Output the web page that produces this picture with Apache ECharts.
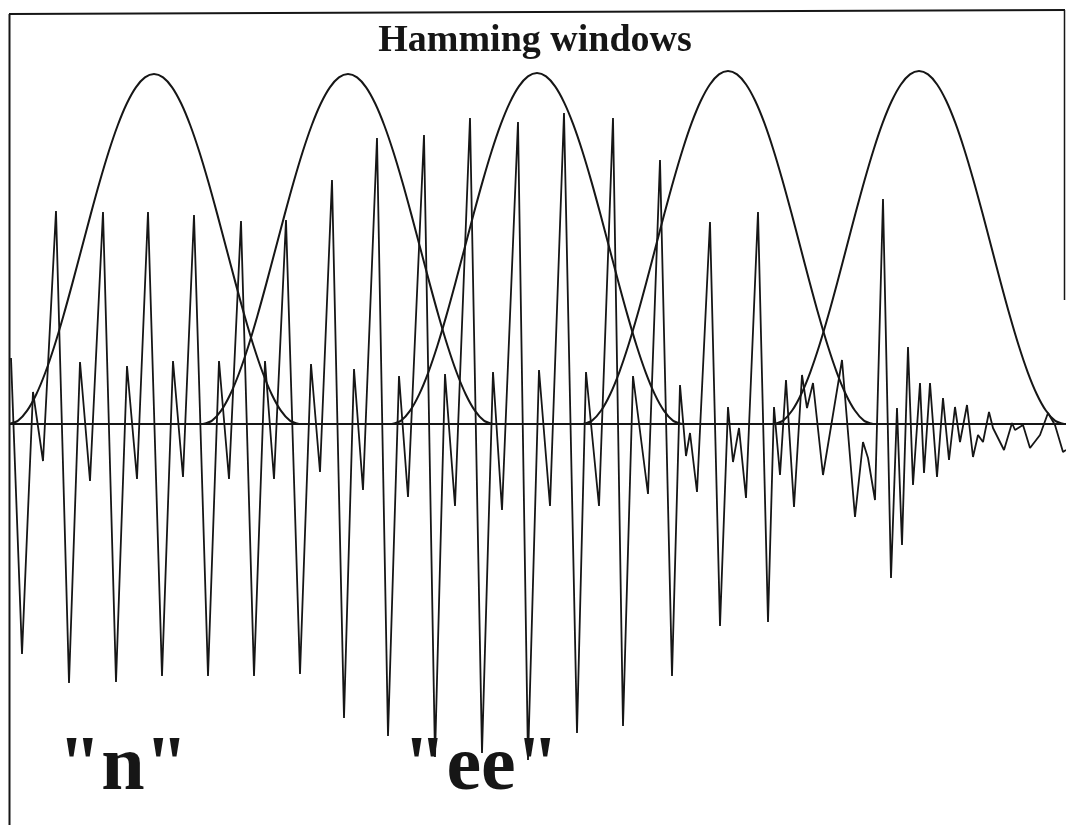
<!DOCTYPE html>
<html>
<head>
<meta charset="utf-8">
<script src="https://cdn.jsdelivr.net/npm/echarts@6/dist/echarts.min.js"></script>
<style>
  html, body { margin: 0; padding: 0; background: #ffffff; }
  #chart { width: 1066px; height: 825px; }
</style>
</head>
<body>
<div id="chart"></div>
<script>
// ---- Data (sample position, amplitude) ----
const waveX = [11, 22, 33, 43, 56, 69, 80, 90, 103, 116, 127, 137, 148, 162, 173, 183, 194, 208, 219, 229,
  241, 254, 265, 274, 286, 300, 311, 320, 332, 344, 354, 363, 377, 388, 399, 408, 424, 435, 445, 455,
  470, 482, 493, 502, 518, 528, 539, 550, 564, 577, 586, 599, 613, 623, 633, 648, 660, 672, 680, 686,
  690, 697, 710, 720, 728, 733, 739, 746, 758, 768, 774, 780, 786, 794, 802, 807, 813, 823, 842, 855,
  863, 868, 875, 883, 891, 897, 902, 908, 913, 920, 924, 930, 937, 943, 949, 955, 960, 967, 973, 978,
  983, 989, 993, 1004, 1012, 1015, 1023, 1030, 1040, 1048, 1055, 1063, 1066];
const waveY = [66, -230, 32, -37, 213, -259, 62, -57, 212, -258, 58, -55, 212, -252, 63, -53, 209, -252, 63, -55,
  203, -252, 63, -55, 204, -250, 60, -48, 244, -294, 55, -66, 286, -312, 48, -73, 289, -333, 50, -82,
  306, -329, 52, -86, 302, -336, 54, -82, 311, -309, 52, -82, 306, -302, 48, -70, 264, -252, 39, -32,
  -9, -68, 202, -202, 17, -38, -4, -74, 212, -198, 17, -51, 44, -83, 49, 16, 41, -51, 64, -93,
  -18, -34, -76, 225, -154, 16, -121, 77, -61, 41, -49, 41, -53, 26, -36, 17, -18, 19, -33, -11,
  -18, 12, -4, -26, 1, -6, -1, -24, -11, 11, -1, -28, -26];

// Hamming windows: centres, width and peak heights, and the bell shape (fraction of peak)
const windowCenters = [154, 348, 537, 728, 919];
const windowWidth = 290;
const windowPeaks = [350, 350, 351, 353, 353];
const windowShape = [0, 0.0096, 0.0381, 0.0843, 0.1464, 0.2222, 0.3087, 0.4025, 0.5, 0.5975, 0.6913, 0.7778,
  0.8536, 0.9157, 0.9619, 0.9904, 1, 0.9904, 0.9619, 0.9157, 0.8536, 0.7778, 0.6913, 0.5975, 0.5,
  0.4025, 0.3087, 0.2222, 0.1464, 0.0843, 0.0381, 0.0096, 0];

const titleText = 'Hamming windows';
const labelTexts = ['"n"', '"ee"'];

// ---- Build series ----
const ink = '#161616';
const waveData = waveX.map((x, i) => [x, waveY[i]]);
const series = [{
  type: 'line',
  data: waveData,
  symbol: 'none',
  smooth: false,
  lineStyle: { color: ink, width: 1.8 },
  z: 3,
  silent: true
}];
windowCenters.forEach((c, i) => {
  const n = windowShape.length - 1;
  const pts = windowShape.map((v, k) => [c - windowWidth / 2 + windowWidth * k / n, v * windowPeaks[i]]);
  series.push({
    type: 'line',
    data: pts,
    symbol: 'none',
    smooth: 0.3,
    lineStyle: { color: ink, width: 2 },
    z: 4,
    silent: true
  });
});

const chart = echarts.init(document.getElementById('chart'), null, { renderer: 'canvas' });
chart.setOption({
  backgroundColor: '#ffffff',
  animation: false,
  grid: { left: 10, right: 0, top: 0, bottom: 0 },
  xAxis: {
    type: 'value', min: 10, max: 1066,
    axisLine: { show: true, onZero: true, lineStyle: { color: ink, width: 2 } },
    axisTick: { show: false }, axisLabel: { show: false }, splitLine: { show: false }
  },
  yAxis: {
    type: 'value', min: -401, max: 424,
    axisLine: { show: false }, axisTick: { show: false }, axisLabel: { show: false }, splitLine: { show: false }
  },
  series: series,
  graphic: [
    { type: 'line', shape: { x1: 9.5, y1: 14, x2: 9.5, y2: 825 }, style: { stroke: ink, lineWidth: 2 }, z: 10 },
    { type: 'line', shape: { x1: 9, y1: 14, x2: 1065, y2: 10 }, style: { stroke: ink, lineWidth: 2 }, z: 10 },
    { type: 'line', shape: { x1: 1064.5, y1: 10, x2: 1064.5, y2: 300 }, style: { stroke: ink, lineWidth: 1.5 }, z: 10 },
    { type: 'text', style: { text: titleText, x: 535, y: 41, align: 'center', verticalAlign: 'middle',
      font: 'bold 38px "Liberation Serif", "DejaVu Serif", serif', fill: ink }, z: 10 },
    { type: 'text', style: { text: labelTexts[0], x: 123, y: 769, align: 'center', verticalAlign: 'middle',
      font: 'bold 78px "Liberation Serif", "DejaVu Serif", serif', fill: ink }, z: 10 },
    { type: 'text', style: { text: labelTexts[1], x: 481, y: 769, align: 'center', verticalAlign: 'middle',
      font: 'bold 78px "Liberation Serif", "DejaVu Serif", serif', fill: ink }, z: 10 }
  ]
});
</script>
</body>
</html>
